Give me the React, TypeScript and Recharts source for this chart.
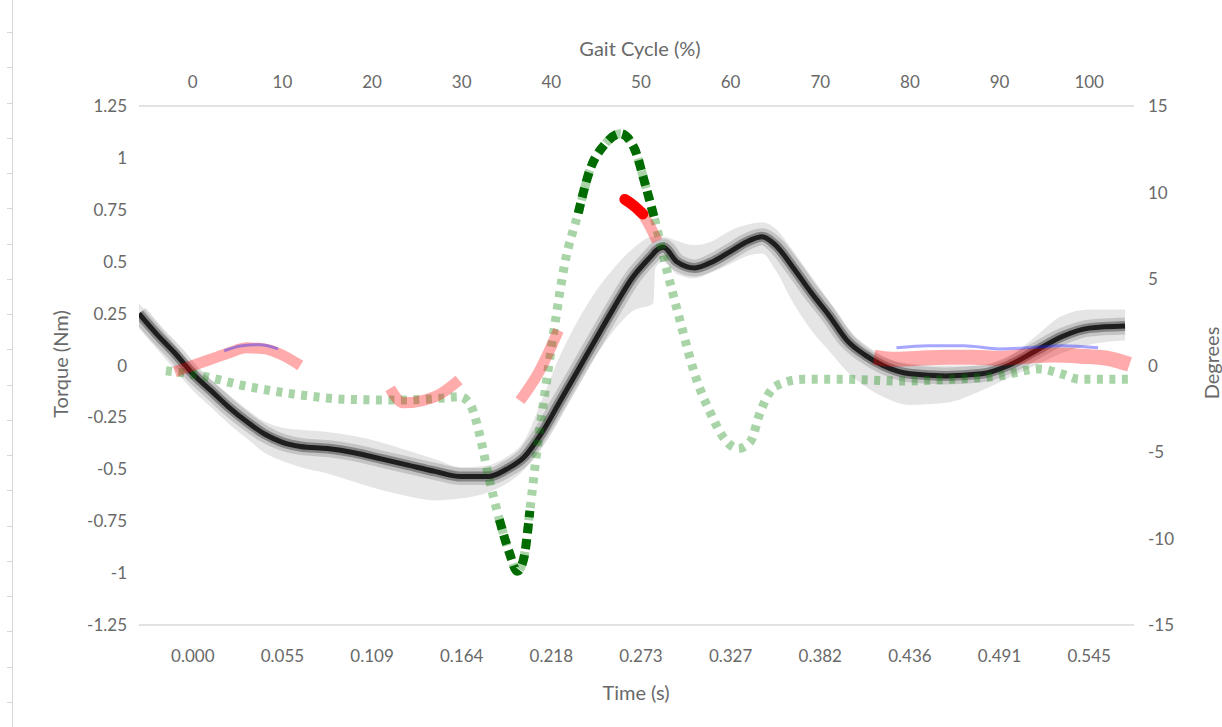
import { ComposedChart, Line, Area, XAxis, YAxis, Label } from 'recharts'

// axis ticks
const cycleTicks = [0, 10, 20, 30, 40, 50, 60, 70, 80, 90, 100]
const timeLabels = ['0.000', '0.055', '0.109', '0.164', '0.218', '0.273', '0.327', '0.382', '0.436', '0.491', '0.545']
const torqueTicks = [-1.25, -1, -0.75, -0.5, -0.25, 0, 0.25, 0.5, 0.75, 1, 1.25]
const degreeTicks = [-15, -10, -5, 0, 5, 10, 15]

// joint torque (Nm): mean with spread, sampled along the gait cycle (%)
const torquePct = [-6, -4, -2, 0, 2, 4, 6, 8, 10, 12, 15, 18, 21, 24, 27, 30, 33, 35, 37, 39, 41, 43, 45, 47, 49, 51.4, 51.6, 52.5, 54, 56, 58, 60, 62, 63.5, 65, 67, 69, 71, 73, 75, 77, 80, 84, 88, 91, 94, 97, 100, 104]
const torqueMean = [0.25, 0.15, 0.06, -0.04, -0.12, -0.2, -0.27, -0.33, -0.37, -0.39, -0.4, -0.42, -0.45, -0.48, -0.51, -0.535, -0.535, -0.5, -0.44, -0.32, -0.17, -0.02, 0.13, 0.28, 0.42, 0.54, 0.55, 0.57, 0.5, 0.47, 0.5, 0.55, 0.6, 0.62, 0.58, 0.47, 0.35, 0.24, 0.12, 0.05, 0.0, -0.04, -0.05, -0.04, 0.0, 0.07, 0.14, 0.18, 0.19]
const torqueLow = [0.18, 0.08, -0.02, -0.12, -0.2, -0.28, -0.35, -0.42, -0.46, -0.49, -0.52, -0.56, -0.6, -0.63, -0.65, -0.64, -0.61, -0.57, -0.5, -0.38, -0.24, -0.09, 0.05, 0.17, 0.26, 0.3, 0.47, 0.5, 0.44, 0.42, 0.45, 0.49, 0.53, 0.54, 0.46, 0.3, 0.17, 0.07, -0.03, -0.1, -0.15, -0.19, -0.18, -0.12, -0.06, 0.0, 0.06, 0.1, 0.12]
const torqueHigh = [0.3, 0.2, 0.1, 0.0, -0.07, -0.14, -0.21, -0.27, -0.3, -0.31, -0.32, -0.34, -0.37, -0.41, -0.45, -0.49, -0.48, -0.44, -0.36, -0.16, 0.05, 0.22, 0.36, 0.47, 0.56, 0.62, 0.62, 0.62, 0.6, 0.58, 0.6, 0.65, 0.68, 0.69, 0.66, 0.55, 0.43, 0.31, 0.18, 0.09, 0.04, 0.01, 0.0, 0.0, 0.04, 0.14, 0.24, 0.27, 0.27]

// joint angle (degrees)
const anglePct = [-3, 1, 6, 12, 17, 23, 27.5, 29.8, 31, 32, 33, 34.2, 35.3, 36.2, 36.9, 37.6, 38.4, 39.3, 40.4, 41.5, 43, 44.3, 46, 47.7, 49.3, 50.4, 51.6, 52.7, 54.4, 56, 57.7, 59.4, 60.8, 62.2, 63.3, 65, 68, 73, 79, 84.5, 90, 94.5, 97, 99, 104.5]
const angleDeg = [-0.3, -0.6, -1.2, -1.7, -1.95, -2.0, -1.9, -1.8, -2.3, -4.0, -6.4, -8.9, -10.8, -11.9, -11.2, -8.4, -4.9, -1.5, 2.4, 5.9, 8.8, 11.3, 12.8, 13.4, 12.5, 10.6, 8.3, 5.9, 2.5, -0.5, -2.7, -4.3, -4.8, -4.4, -2.7, -1.2, -0.8, -0.8, -0.9, -0.8, -0.6, -0.2, -0.5, -0.8, -0.8]
// phases where the angle trace is drawn solid
const darkPhases = [[34, 37.7], [42.9, 51.7]]

// second torque trace (pink), null = gap
const pinkPct = [-2, 0, 2, 4, 6, 8, 10, 12, 17, 22, 23.5, 25.5, 27.5, 29.7, 33, 36.5, 38.5, 40.8, 45, 50.2, 51, 51.8]
const pinkTorque = [-0.03, 0.0, 0.03, 0.06, 0.085, 0.08, 0.05, 0.0, null, -0.11, -0.18, -0.17, -0.14, -0.07, null, -0.17, -0.04, 0.17, null, 0.73, 0.67, 0.6]
const pinkLatePct = [76, 78, 81, 84, 87, 90, 93, 96, 99, 102, 104.5]
const pinkLateTorque = [0.04, 0.03, 0.035, 0.04, 0.04, 0.035, 0.045, 0.05, 0.045, 0.035, 0.005]
const redPct = [48.2, 49.2, 50.2]
const redTorque = [0.8, 0.77, 0.73]

// reference torque (blue), null = gap
const bluePct = [3.5, 5.5, 7.5, 9.5, 40, 78.5, 82, 86, 90, 93, 97, 101]
const blueTorque = [0.07, 0.095, 0.1, 0.08, null, 0.085, 0.095, 0.095, 0.08, 0.085, 0.095, 0.085]

const torqueData = torquePct.map((x, i) => ({ x, mean: torqueMean[i], band: [torqueLow[i], torqueHigh[i]] }))
const inDark = (p: number) => darkPhases.some(([a, b]) => p >= a && p <= b)
const angleData = anglePct.map((x, i) => ({ x, deg: angleDeg[i], dark: inDark(x) ? angleDeg[i] : null }))
const pinkData = pinkPct.map((x, i) => ({ x, y: pinkTorque[i] }))
const pinkLateData = pinkLatePct.map((x, i) => ({ x, y: pinkLateTorque[i] }))
const redData = redPct.map((x, i) => ({ x, y: redTorque[i] }))
const blueData = bluePct.map((x, i) => ({ x, y: blueTorque[i] }))

const FONT = 'Lato, Carlito, Calibri, "Open Sans", sans-serif'
const TEXT = '#696969'
const AXIS = '#d9d9d9'
const tickStyle = { fill: TEXT, fontSize: 17, fontFamily: FONT }

function title(text: string, x: number, y: number, angle = 0) {
  return () => (
    <text
      x={x}
      y={y}
      textAnchor="middle"
      dominantBaseline="central"
      transform={angle ? `rotate(${angle} ${x} ${y})` : undefined}
      fill={TEXT}
      fontSize={20}
      fontFamily={FONT}
    >
      {text}
    </text>
  )
}

export default function App() {
  return (
    <div style={{ position: 'absolute', left: 0, top: 0, width: 1222, height: 727, background: '#fff' }}>
      {/* ruler edge from the screenshot */}
      <div style={{ position: 'absolute', left: 12, top: 0, width: 1, height: 727, background: '#d6d6d6' }} />
      <div
        style={{
          position: 'absolute', left: 7, top: 32, width: 5, height: 695,
          backgroundImage: 'repeating-linear-gradient(to bottom, #d6d6d6 0px, #d6d6d6 1px, transparent 1px, transparent 35.25px)',
        }}
      />
      <ComposedChart width={1222} height={727} margin={{ top: 76, right: 28, bottom: 72, left: 79 }}>
        <XAxis
          xAxisId="time"
          type="number"
          dataKey="x"
          domain={[-6, 105]}
          allowDataOverflow
          ticks={cycleTicks}
          interval={0}
          tickFormatter={(v) => timeLabels[cycleTicks.indexOf(v)] ?? ''}
          height={30}
          tickSize={6}
          tickMargin={19}
          tickLine={false}
          axisLine={{ stroke: AXIS, strokeWidth: 1.5 }}
          tick={tickStyle}
        >
          <Label content={title('Time (s)', 636, 692)} />
        </XAxis>
        <XAxis
          xAxisId="cycle"
          orientation="top"
          type="number"
          dataKey="x"
          domain={[-6, 105]}
          allowDataOverflow
          ticks={cycleTicks}
          interval={0}
          height={30}
          tickSize={6}
          tickMargin={12}
          tickLine={false}
          axisLine={{ stroke: AXIS, strokeWidth: 1.5 }}
          tick={tickStyle}
        >
          <Label content={title('Gait Cycle (%)', 640, 48)} />
        </XAxis>
        <YAxis
          yAxisId="torque"
          type="number"
          domain={[-1.25, 1.25]}
          ticks={torqueTicks}
          interval={0}
          width={60}
          tickSize={6}
          tickMargin={6}
          tickLine={false}
          axisLine={false}
          tick={tickStyle}
        >
          <Label content={title('Torque (Nm)', 60, 364, -90)} />
        </YAxis>
        <YAxis
          yAxisId="deg"
          orientation="right"
          type="number"
          domain={[-15, 15]}
          ticks={degreeTicks}
          interval={0}
          width={60}
          tickSize={6}
          tickMargin={8}
          tickLine={false}
          axisLine={false}
          tick={tickStyle}
        >
          <Label content={title('Degrees', 1211, 363, -90)} />
        </YAxis>

        {/* keeps the top axis tied to the data */}
        <Line xAxisId="cycle" yAxisId="torque" data={torqueData} dataKey="mean" stroke="none" dot={false} activeDot={false} legendType="none" isAnimationActive={false} />

        <Area xAxisId="time" yAxisId="torque" data={torqueData} dataKey="band" type="monotone" stroke="none" fill="#000" fillOpacity={0.1} isAnimationActive={false} />
        <Line xAxisId="time" yAxisId="torque" data={torqueData} dataKey="mean" type="monotone" stroke="#000" strokeOpacity={0.14} strokeWidth={17} dot={false} activeDot={false} isAnimationActive={false} />
        <Line xAxisId="time" yAxisId="torque" data={torqueData} dataKey="mean" type="monotone" stroke="#000" strokeOpacity={0.32} strokeWidth={10} dot={false} activeDot={false} isAnimationActive={false} />
        <Line xAxisId="time" yAxisId="torque" data={torqueData} dataKey="mean" type="monotone" stroke="#1e1e1e" strokeWidth={5} dot={false} activeDot={false} isAnimationActive={false} />

        <Line xAxisId="time" yAxisId="deg" data={angleData} dataKey="deg" type="monotone" stroke="#008000" strokeOpacity={0.34} strokeWidth={9} strokeDasharray="6 6.5" dot={false} activeDot={false} isAnimationActive={false} />
        <Line xAxisId="time" yAxisId="deg" data={angleData} dataKey="dark" type="monotone" stroke="#006b00" strokeWidth={9} strokeDasharray="10 6" dot={false} activeDot={false} isAnimationActive={false} />

        <Line xAxisId="time" yAxisId="torque" data={pinkData} dataKey="y" type="monotone" stroke="#ff0000" strokeOpacity={0.33} strokeWidth={11} dot={false} activeDot={false} isAnimationActive={false} />
        <Line xAxisId="time" yAxisId="torque" data={pinkLateData} dataKey="y" type="monotone" stroke="#ff0000" strokeOpacity={0.33} strokeWidth={15} dot={false} activeDot={false} isAnimationActive={false} />
        <Line xAxisId="time" yAxisId="torque" data={redData} dataKey="y" type="monotone" stroke="#ff0000" strokeWidth={11} strokeLinecap="round" dot={false} activeDot={false} isAnimationActive={false} />
        <Line xAxisId="time" yAxisId="torque" data={blueData} dataKey="y" type="monotone" stroke="#2020ff" strokeOpacity={0.4} strokeWidth={3} dot={false} activeDot={false} isAnimationActive={false} />
      </ComposedChart>
    </div>
  )
}
